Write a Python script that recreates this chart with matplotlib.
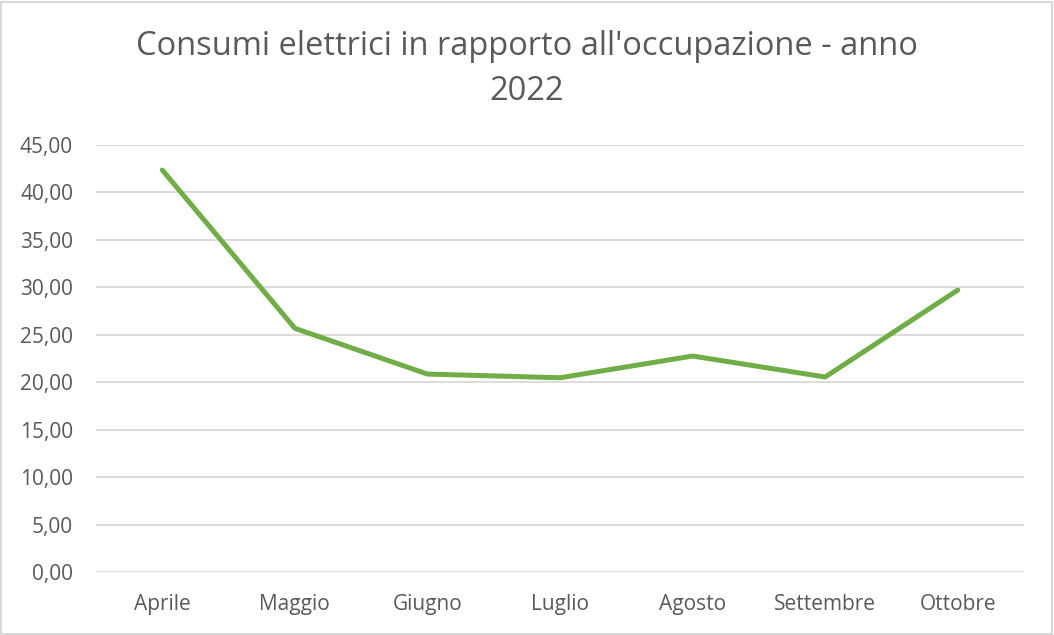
import matplotlib
matplotlib.use("Agg")
import matplotlib.pyplot as plt
from matplotlib.patches import Rectangle
from matplotlib.ticker import FuncFormatter

mesi = ["Aprile", "Maggio", "Giugno", "Luglio", "Agosto", "Settembre", "Ottobre"]
consumi = [42.36, 25.68, 20.86, 20.47, 22.76, 20.55, 29.71]
y_ticks = [0, 5, 10, 15, 20, 25, 30, 35, 40, 45]

plt.rcParams['font.family'] = ['Open Sans', 'DejaVu Sans']
testo = '#595959'

fig = plt.figure(figsize=(10.54, 6.35), dpi=100)
ax = fig.add_axes([96 / 1054, 1 - 572 / 635, (1024 - 96) / 1054, (572 - 145) / 635])

x = list(range(len(mesi)))
ax.plot(x, consumi, color='#70AD47', linewidth=3.6, solid_capstyle='round',
        solid_joinstyle='round', zorder=3)

ax.set_xlim(-0.5, len(mesi) - 0.5)
ax.set_ylim(0, 45)
ax.set_yticks(y_ticks)
ax.yaxis.set_major_formatter(FuncFormatter(lambda v, p: f"{v:.2f}".replace('.', ',')))
ax.set_xticks(x)
ax.set_xticklabels(mesi)
ax.grid(axis='y', color='#D9D9D9', linewidth=1.3)
ax.set_axisbelow(True)
for s in ax.spines.values():
    s.set_visible(False)
ax.tick_params(axis='both', length=0, labelsize=15, colors=testo)
ax.tick_params(axis='x', pad=15.5)
ax.tick_params(axis='y', pad=16.5)

fig.text(0.5, 1 - 69 / 635, "Consumi elettrici in rapporto all'occupazione - anno\n2022",
         ha='center', va='center', fontsize=23.5, color=testo, linespacing=1.5)

# bordo del grafico
fig.patches.append(Rectangle((0.001, 0.002), 0.997, 0.995, transform=fig.transFigure,
                             fill=False, edgecolor='#D9D9D9', linewidth=1.5))

fig.savefig("out.png", dpi=100)
